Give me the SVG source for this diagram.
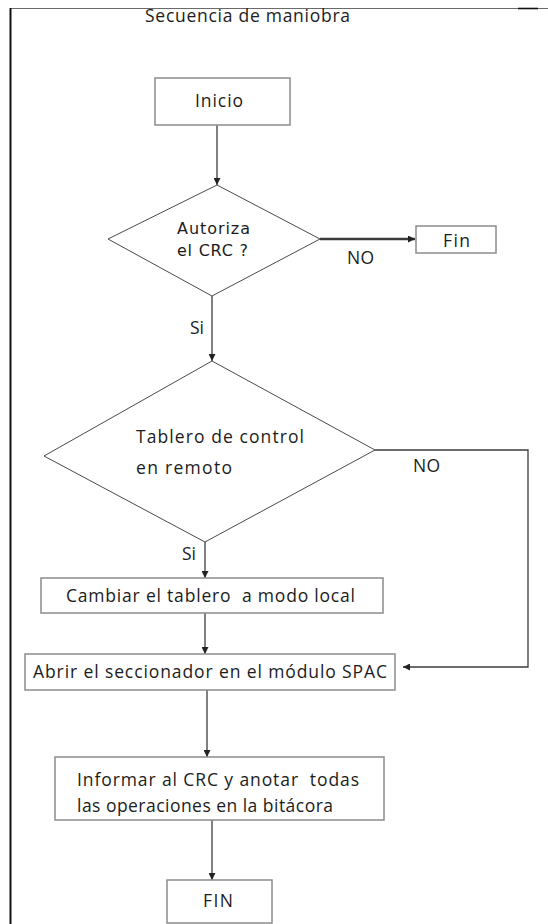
<svg xmlns="http://www.w3.org/2000/svg" width="548" height="924" viewBox="0 0 548 924">
  <style>
    .box { fill: #ffffff; stroke: #8c8c8c; stroke-width: 1.5; }
    .dia { fill: #ffffff; stroke: #4a4a4a; stroke-width: 1; }
    .txt { font-family: "Open Sans", "Liberation Sans", Arial, sans-serif; font-size: 17.5px; fill: #1c1c1c; }
    .dtx { font-family: "DejaVu Sans", Verdana, sans-serif; font-size: 16px; fill: #1c1c1c; }
    .conn { fill: none; stroke: #3c3c3c; stroke-width: 1.3; }
    .thick { fill: none; stroke: #3c3c3c; stroke-width: 2.6; }
  </style>
  <defs>
    <marker id="arrow" viewBox="0 0 10 10" refX="10" refY="5" markerWidth="8" markerHeight="7" markerUnits="userSpaceOnUse" orient="auto">
      <path d="M0,0 L10,5 L0,10 z" fill="#222222"/>
    </marker>
  </defs>

  <rect width="548" height="924" fill="#ffffff"/>

  <!-- page frame -->
  <g id="frame">
    <line x1="10" y1="8.5" x2="548" y2="8.5" stroke="#6a6a6a" stroke-width="1"/>
    <line x1="518" y1="8.5" x2="538" y2="8.5" stroke="#111111" stroke-width="1.6"/>
    <line x1="10.5" y1="8" x2="10.5" y2="924" stroke="#111111" stroke-width="2"/>
  </g>

  <text id="title" class="txt" x="145" y="22" textLength="205" lengthAdjust="spacing">Secuencia de maniobra</text>

  <!-- connectors -->
  <g id="connectors">
    <line class="conn" x1="217" y1="125" x2="217" y2="185" marker-end="url(#arrow)"/>
    <line class="thick" x1="320" y1="239" x2="415" y2="239" marker-end="url(#arrow)"/>
    <line class="conn" x1="212" y1="296" x2="212" y2="361" marker-end="url(#arrow)"/>
    <polyline class="conn" points="375,450 528,450 528,667 403,667" marker-end="url(#arrow)"/>
    <line class="conn" x1="205" y1="542" x2="205" y2="578" marker-end="url(#arrow)"/>
    <line class="conn" x1="205" y1="613" x2="205" y2="654" marker-end="url(#arrow)"/>
    <line class="conn" x1="207" y1="690" x2="207" y2="757" marker-end="url(#arrow)"/>
    <line class="conn" x1="212" y1="820" x2="212" y2="880" marker-end="url(#arrow)"/>
    <text class="txt" x="347" y="264" textLength="27" lengthAdjust="spacing">NO</text>
    <text class="txt" x="190" y="334">Si</text>
    <text class="txt" x="413" y="472" textLength="27" lengthAdjust="spacing">NO</text>
    <text class="txt" x="182" y="560">Si</text>
  </g>

  <g id="inicio">
    <rect class="box" x="155" y="78" width="135" height="47"/>
    <text class="txt" x="195" y="107" textLength="48" lengthAdjust="spacing">Inicio</text>
  </g>

  <g id="autoriza">
    <polygon class="dia" points="217,185 320,239 212,296 108,239"/>
    <text class="dtx" x="177" y="234" textLength="73" lengthAdjust="spacing">Autoriza</text>
    <text class="dtx" x="177" y="256" textLength="71" lengthAdjust="spacing">el CRC ?</text>
  </g>

  <g id="fin-no">
    <rect class="box" x="416" y="226" width="80" height="27"/>
    <text class="txt" x="443" y="247" textLength="27" lengthAdjust="spacing">Fin</text>
  </g>

  <g id="tablero">
    <polygon class="dia" points="212,361 375,450 205,542 44,456"/>
    <text class="txt" x="136" y="443" textLength="168" lengthAdjust="spacing">Tablero de control</text>
    <text class="txt" x="136" y="474" textLength="96" lengthAdjust="spacing">en remoto</text>
  </g>

  <g id="cambiar">
    <rect class="box" x="41" y="578" width="342" height="35"/>
    <text class="txt" x="66" y="602" textLength="289" lengthAdjust="spacing" xml:space="preserve">Cambiar el tablero  a modo local</text>
  </g>

  <g id="abrir">
    <rect class="box" x="25" y="654" width="370" height="36"/>
    <text class="txt" x="33" y="678" textLength="354" lengthAdjust="spacing">Abrir el seccionador en el módulo SPAC</text>
  </g>

  <g id="informar">
    <rect class="box" x="55" y="757" width="329" height="63"/>
    <text class="txt" x="77" y="786" textLength="282" lengthAdjust="spacing" xml:space="preserve">Informar al CRC y anotar  todas</text>
    <text class="txt" x="77" y="812" textLength="256" lengthAdjust="spacing">las operaciones en la bitácora</text>
  </g>

  <g id="fin">
    <rect class="box" x="167" y="880" width="105" height="43"/>
    <text class="txt" x="203" y="907" textLength="30" lengthAdjust="spacing">FIN</text>
  </g>
</svg>
